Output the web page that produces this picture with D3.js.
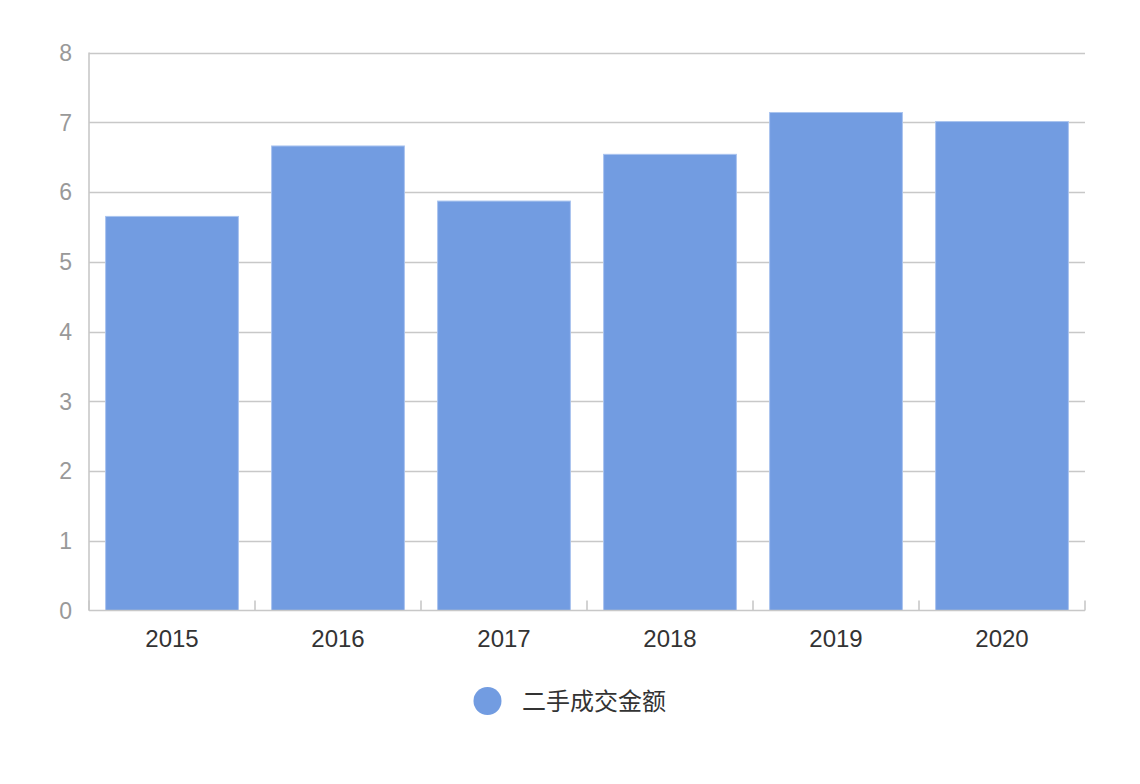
<!DOCTYPE html>
<html><head><meta charset="utf-8">
<script src="https://cdn.jsdelivr.net/npm/d3@7"></script>
<style>body{margin:0;background:#fff;}svg{display:block;}</style>
</head><body>
<svg id="c" width="1140" height="784"></svg>
<script>
const categories = ["2015","2016","2017","2018","2019","2020"];
const values = [5.65, 6.66, 5.87, 6.54, 7.14, 7.01];
const yTicks = [0,1,2,3,4,5,6,7,8];
const seriesName = "二手成交金额";

(function () {
const svg = d3.select("#c");
const pl = 89, pr = 1085, pt = 52.5, pb = 610.5;
const font = "Arial, 'Liberation Sans', 'Noto Sans CJK SC', sans-serif";

const x = d3.scaleBand().domain(categories).range([pl, pr]).paddingInner(0.2).paddingOuter(0.1);
const y = d3.scaleLinear().domain([0, 8]).range([pb, pt]);

// grid
svg.append("g").selectAll("line").data(yTicks.filter(d => d > 0)).join("line")
  .attr("x1", pl).attr("x2", pr)
  .attr("y1", d => Math.round(y(d)) + 0.5).attr("y2", d => Math.round(y(d)) + 0.5)
  .attr("stroke", "#c8c8c8").attr("stroke-width", 1.5);

// y axis labels
svg.append("g").selectAll("text").data(yTicks).join("text")
  .attr("x", 72).attr("y", d => y(d))
  .attr("dy", "0.36em").attr("text-anchor", "end")
  .attr("font-family", font).attr("font-size", 23).attr("fill", "#999")
  .text(d => d);

// bars
svg.append("g").selectAll("rect").data(values).join("rect")
  .attr("x", (d, i) => x(categories[i]))
  .attr("width", x.bandwidth())
  .attr("y", d => y(d))
  .attr("height", d => y(0) - y(d))
  .attr("fill", "#729ce1")
  .attr("stroke", "#a9c4ef").attr("stroke-width", 1);

// y axis line
svg.append("line").attr("x1", pl).attr("x2", pl).attr("y1", pt).attr("y2", pb)
  .attr("stroke", "#c8c8c8").attr("stroke-width", 1.6);

// x axis
const xa = svg.append("g");
xa.append("line").attr("x1", pl).attr("x2", pr).attr("y1", pb).attr("y2", pb)
  .attr("stroke", "#c8c8c8").attr("stroke-width", 1.6);
const bounds = categories.map(c => x(c) - x.step() * x.paddingInner() / 2);
bounds.push(pr);
xa.selectAll("line.tick").data(bounds).join("line").attr("class", "tick")
  .attr("x1", d => d).attr("x2", d => d).attr("y1", pb).attr("y2", pb - 10)
  .attr("stroke", "#c8c8c8").attr("stroke-width", 1.6);
xa.selectAll("text").data(categories).join("text")
  .attr("x", d => x(d) + x.bandwidth() / 2).attr("y", 647)
  .attr("text-anchor", "middle")
  .attr("font-family", font).attr("font-size", 24).attr("fill", "#333")
  .text(d => d);

// legend
const lg = svg.append("g");
lg.append("circle").attr("cx", 487.5).attr("cy", 701).attr("r", 14).attr("fill", "#729ce1");
lg.append("text").attr("x", 522).attr("y", 701).attr("dy", "0.36em")
  .attr("font-family", "'Noto Sans CJK SC', sans-serif").attr("font-size", 24).attr("fill", "#333")
  .text(seriesName);
})();
</script>
</body></html>
